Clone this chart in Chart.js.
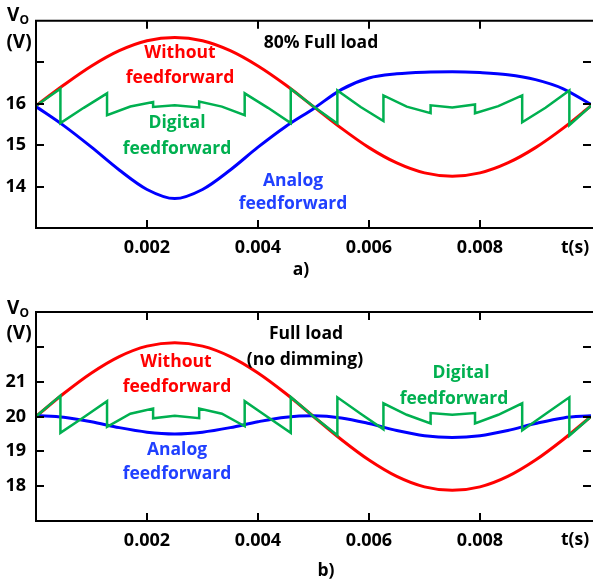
<!DOCTYPE html>
<html>
<head>
<meta charset="utf-8">
<script src="https://cdn.jsdelivr.net/npm/chart.js@4.4.1/dist/chart.umd.min.js"></script>
<style>
  body { margin: 0; background: #fff; }
  #wrap { position: relative; width: 600px; height: 581px; overflow: hidden; font-family: 'Open Sans', sans-serif; font-weight: 700; }
  canvas { position: absolute; left: 0; }
  #chartA { top: 0; }
  #chartB { top: 290px; }
  .lbl { position: absolute; transform: translate(-50%, -50%); white-space: nowrap; font-size: 17.5px; line-height: 1; }
  .red { color: #ff0000; }
  .green { color: #00b050; }
  .blue { color: #2040ff; }
  .blk { color: #000; }
  sub { font-size: 12px; vertical-align: -3px; }
</style>
</head>
<body>
<div id="wrap">
  <canvas id="chartA" width="600" height="290"></canvas>
  <canvas id="chartB" width="600" height="291"></canvas>

  <!-- panel a -->
  <div class="lbl blk" style="left:18px;top:15px;font-size:19px">V<sub>O</sub></div>
  <div class="lbl blk" style="left:19px;top:41px;font-size:19px">(V)</div>
  <div class="lbl blk" style="left:321px;top:42px">80% Full load</div>
  <div class="lbl red" style="left:180px;top:52px">Without</div>
  <div class="lbl red" style="left:180px;top:77px">feedforward</div>
  <div class="lbl green" style="left:177px;top:122px">Digital</div>
  <div class="lbl green" style="left:177px;top:148px">feedforward</div>
  <div class="lbl blue" style="left:293px;top:180px">Analog</div>
  <div class="lbl blue" style="left:293px;top:203px">feedforward</div>
  <div class="lbl blk" style="left:575px;top:247px">t(s)</div>
  <div class="lbl blk" style="left:301px;top:269px">a)</div>

  <!-- panel b -->
  <div class="lbl blk" style="left:18px;top:308px;font-size:19px">V<sub>O</sub></div>
  <div class="lbl blk" style="left:19px;top:332px;font-size:19px">(V)</div>
  <div class="lbl blk" style="left:306px;top:333px">Full load</div>
  <div class="lbl blk" style="left:305px;top:359px">(no dimming)</div>
  <div class="lbl red" style="left:176px;top:361px">Without</div>
  <div class="lbl red" style="left:177px;top:386px">feedforward</div>
  <div class="lbl blue" style="left:177px;top:449px">Analog</div>
  <div class="lbl blue" style="left:177px;top:473px">feedforward</div>
  <div class="lbl green" style="left:461px;top:372px">Digital</div>
  <div class="lbl green" style="left:454px;top:398px">feedforward</div>
  <div class="lbl blk" style="left:575px;top:539px">t(s)</div>
  <div class="lbl blk" style="left:326px;top:570px">b)</div>
</div>

<script>
// ==================== DATA ====================

// time axis (s) shared by the smooth curves
const timeGrid = [0, 0.0005, 0.001, 0.0015, 0.002, 0.0025, 0.003, 0.0035, 0.004, 0.0045, 0.005,
  0.0055, 0.006, 0.0065, 0.007, 0.0075, 0.008, 0.0085, 0.009, 0.0095, 0.01];

// a) 80% full load
const redA  = [15.95, 16.45, 16.91, 17.28, 17.52, 17.60, 17.52, 17.28, 16.91, 16.45, 15.93,
  15.41, 14.94, 14.57, 14.33, 14.25, 14.33, 14.57, 14.94, 15.41, 15.95];
const blueA = [15.93, 15.47, 14.95, 14.40, 13.93, 13.71, 13.93, 14.40, 14.95, 15.45, 15.88,
  16.34, 16.62, 16.72, 16.76, 16.77, 16.75, 16.70, 16.58, 16.36, 15.98];
const greenA_t = [0, 0.00044, 0.00044, 0.00086, 0.00128, 0.00128, 0.0017, 0.00211, 0.00211, 0.0025,
  0.00294, 0.00294, 0.00335, 0.00376, 0.00376, 0.00418, 0.00459, 0.00459, 0.005, 0.00543,
  0.00543, 0.00585, 0.00626, 0.00626, 0.00668, 0.00711, 0.00711, 0.0075, 0.00791, 0.00791,
  0.00833, 0.00876, 0.00876, 0.00918, 0.00961, 0.00961, 0.01];
const greenA_v = [15.95, 16.36, 15.53, 15.90, 16.25, 15.72, 15.93, 16.04, 15.92, 15.96,
  15.91, 16.05, 15.93, 15.72, 16.25, 15.90, 15.53, 16.36, 15.93, 15.52,
  16.32, 15.92, 15.58, 16.20, 15.93, 15.77, 15.96, 15.91, 15.98, 15.77,
  15.94, 16.20, 15.55, 15.90, 16.32, 15.48, 15.95];

// b) full load (no dimming)
const redB  = [20.0, 20.66, 21.25, 21.72, 22.02, 22.12, 22.02, 21.72, 21.25, 20.66, 20.0,
  19.34, 18.75, 18.28, 17.98, 17.88, 17.98, 18.28, 18.75, 19.34, 20.0];
const blueB = [20.03, 19.98, 19.85, 19.68, 19.55, 19.50, 19.55, 19.68, 19.85, 19.98, 20.02,
  19.96, 19.80, 19.60, 19.45, 19.40, 19.45, 19.60, 19.80, 19.96, 20.02];
const greenB_t = greenA_t;
const greenB_v = [20.0, 20.6, 19.53, 19.98, 20.44, 19.70, 20.08, 20.23, 19.95, 20.02,
  19.95, 20.23, 20.08, 19.72, 20.44, 19.98, 19.53, 20.56, 20.0, 19.46,
  20.55, 20.08, 19.63, 20.38, 20.05, 19.80, 20.10, 20.05, 20.10, 19.80,
  20.05, 20.38, 19.60, 20.07, 20.55, 19.45, 20.0];

// tick labels
const xTickLabels = ['0.002', '0.004', '0.006', '0.008'];
const yTickLabelsA = [14, 15, 16];
const yTickLabelsB = [18, 19, 20, 21];

// ==================== CHARTS ====================

const pts = (xs, ys) => xs.map((x, i) => ({ x: x, y: ys[i] }));
const tickFont = { family: "'Open Sans'", size: 18, weight: 'bold' };
const X_AXIS_H = 45;

// box with inward ticks on all four sides (MATLAB style)
const framePlugin = {
  id: 'frame',
  afterDraw(chart) {
    const { ctx, chartArea: a, scales: { x, y } } = chart;
    const len = 8;
    ctx.save();
    ctx.strokeStyle = '#000';
    ctx.lineWidth = 2;
    ctx.beginPath();
    ctx.moveTo(a.right + 2, a.top);
    ctx.lineTo(a.left, a.top);
    ctx.lineTo(a.left, a.bottom);
    ctx.lineTo(a.right + 2, a.bottom);
    x.ticks.forEach(t => {
      if (t.value <= x.min || t.value >= x.max - 1e-9) return;
      const px = Math.round(x.getPixelForValue(t.value));
      ctx.moveTo(px, a.top); ctx.lineTo(px, a.top + len);
      ctx.moveTo(px, a.bottom); ctx.lineTo(px, a.bottom - len);
    });
    y.ticks.forEach(t => {
      if (t.value <= y.min || t.value >= y.max) return;
      const py = Math.round(y.getPixelForValue(t.value));
      ctx.moveTo(a.left, py); ctx.lineTo(a.left + len, py);
      ctx.moveTo(a.right, py); ctx.lineTo(a.right - len, py);
    });
    ctx.stroke();
    ctx.restore();
  }
};

function buildChart(id, red, blue, greenT, greenV, yMin, yMax, yLabels, padTop, canvasH) {
  const ctx = document.getElementById(id);
  return new Chart(ctx, {
    type: 'line',
    data: {
      datasets: [
        { label: 'Digital feedforward', data: pts(greenT, greenV), borderColor: '#00b050',
          borderWidth: 2.5, tension: 0, pointRadius: 0 },
        { label: 'Analog feedforward', data: pts(timeGrid, blue), borderColor: '#0000ff',
          borderWidth: 3, cubicInterpolationMode: 'monotone', pointRadius: 0 },
        { label: 'Without feedforward', data: pts(timeGrid, red), borderColor: '#ff0000',
          borderWidth: 3, cubicInterpolationMode: 'monotone', pointRadius: 0 }
      ]
    },
    options: {
      responsive: false,
      animation: false,
      devicePixelRatio: 1,
      layout: { padding: { top: padTop, right: 0, left: 0, bottom: canvasH - padTop - 209 - X_AXIS_H } },
      plugins: { legend: { display: false }, tooltip: { enabled: false } },
      scales: {
        x: {
          type: 'linear', min: 0, max: 0.01,
          grid: { display: false, drawTicks: false }, border: { display: false },
          ticks: {
            stepSize: 0.002, maxRotation: 0, padding: 9, color: '#000', font: tickFont,
            callback: v => xTickLabels.includes(v.toFixed(3)) ? v.toFixed(3) : ''
          },
          afterFit: s => { s.height = X_AXIS_H; }
        },
        y: {
          min: yMin, max: yMax,
          grid: { display: false, drawTicks: false }, border: { display: false },
          ticks: {
            stepSize: 1, padding: 10, color: '#000', font: tickFont,
            callback: v => yLabels.includes(v) ? String(v) : ''
          },
          afterFit: s => { s.width = 36; }
        }
      }
    },
    plugins: [framePlugin]
  });
}

buildChart('chartA', redA, blueA, greenA_t, greenA_v, 13, 18, yTickLabelsA, 19, 290);
buildChart('chartB', redB, blueB, greenB_t, greenB_v, 17, 23, yTickLabelsB, 22, 291);
</script>
</body>
</html>
